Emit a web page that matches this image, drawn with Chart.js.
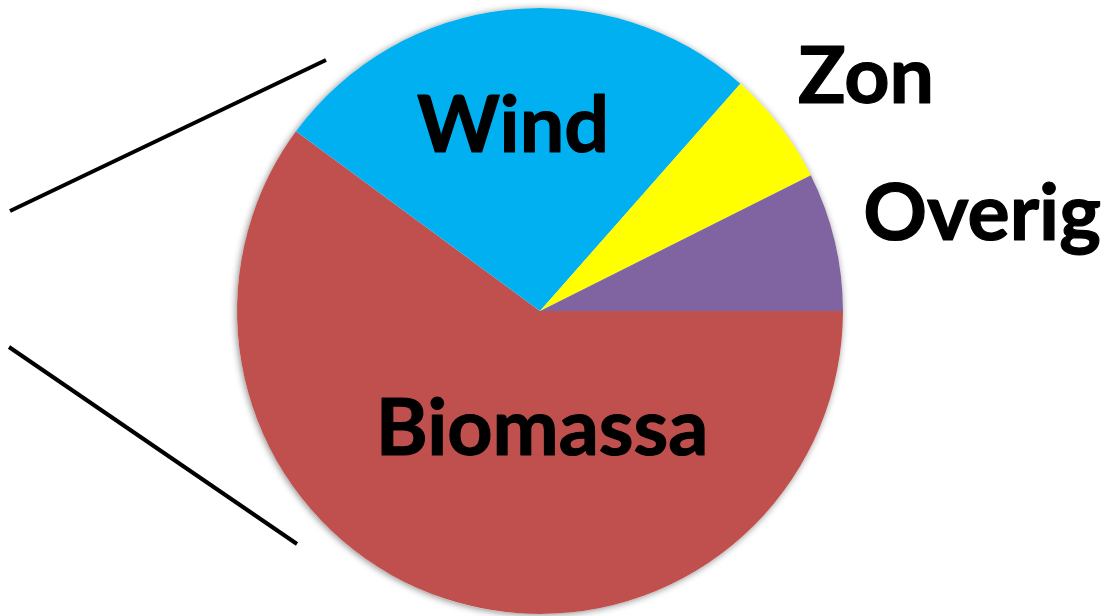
<!DOCTYPE html>
<html>
<head>
<meta charset="utf-8">
<script src="https://cdn.jsdelivr.net/npm/chart.js@4"></script>
<style>
  html, body { margin: 0; padding: 0; background: #ffffff; }
  #wrap { width: 1118px; height: 616px; }
</style>
</head>
<body>
<div id="wrap"><canvas id="pieChart" width="1118" height="616"></canvas></div>
<script>
// Share of each source (percent), clockwise from 3 o'clock
const labels = ['Biomassa', 'Wind', 'Zon', 'Overig'];
const values = [60.1, 26.4, 6.1, 7.4];
const colors = ['#C0504D', '#00B0F0', '#FFFF00', '#8064A2'];

// label placement relative to the pie centre, in units of the radius (baseline)
const labelOffsets = [[0.007, 0.475], [-0.089, -0.525], [1.076, -0.685], [1.459, -0.235]];

// the two connector lines on the left (from the previous chart)
const connectors = [[10, 211, 326, 60], [9, 347, 297, 544]];

const pieExtras = {
    id: 'pieExtras',
    beforeDatasetsDraw(chart) {
        // soft shadow round the pie
        const arc = chart.getDatasetMeta(0).data[0];
        const ctx = chart.ctx;
        ctx.save();
        ctx.shadowColor = 'rgba(0,0,0,0.45)';
        ctx.shadowBlur = 7;
        ctx.shadowOffsetX = -1;
        ctx.shadowOffsetY = 1;
        ctx.fillStyle = '#ffffff';
        ctx.beginPath();
        ctx.arc(arc.x, arc.y, arc.outerRadius, 0, Math.PI * 2);
        ctx.fill();
        ctx.restore();
    },
    afterDraw(chart) {
        const ctx = chart.ctx;
        const arcs = chart.getDatasetMeta(0).data;
        ctx.save();
        // connector lines
        ctx.strokeStyle = '#000000';
        ctx.lineWidth = 4;
        connectors.forEach(([x1, y1, x2, y2]) => {
            ctx.beginPath();
            ctx.moveTo(x1, y1);
            ctx.lineTo(x2, y2);
            ctx.stroke();
        });
        // slice names
        ctx.fillStyle = '#000000';
        ctx.strokeStyle = '#000000';
        ctx.lineWidth = 1.2;
        ctx.lineJoin = 'round';
        ctx.textAlign = 'center';
        ctx.textBaseline = 'alphabetic';
        ctx.font = 'bold 79px Lato';
        arcs.forEach((a, i) => {
            const [fx, fy] = labelOffsets[i];
            const x = a.x + fx * a.outerRadius;
            const y = a.y + fy * a.outerRadius;
            ctx.fillText(labels[i], x, y);
            ctx.strokeText(labels[i], x, y);
        });
        ctx.restore();
    }
};

const pie = new Chart(document.getElementById('pieChart').getContext('2d'), {
    type: 'pie',
    data: {
        labels: labels,
        datasets: [{
            data: values,
            backgroundColor: colors,
            borderWidth: 0
        }]
    },
    options: {
        responsive: false,
        maintainAspectRatio: false,
        animation: false,
        rotation: 90,
        layout: { padding: { left: 237, right: 275, top: 8, bottom: 2 } },
        plugins: {
            legend: { display: false },
            tooltip: { enabled: false }
        }
    },
    plugins: [pieExtras]
});
</script>
</body>
</html>
